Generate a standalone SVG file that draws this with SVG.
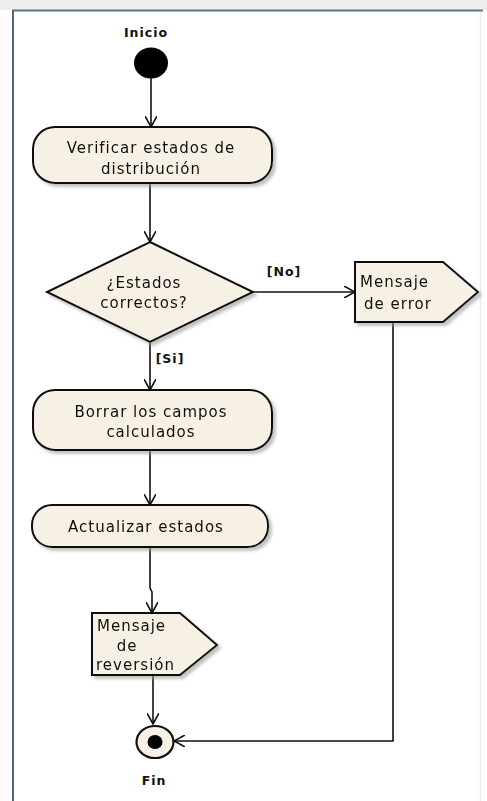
<svg xmlns="http://www.w3.org/2000/svg" width="487" height="801" viewBox="0 0 487 801">
<style>
.node{fill:#f7f0e4;stroke:#111;stroke-width:2}
.t{font-family:"DejaVu Sans",Verdana,sans-serif;font-size:15px;letter-spacing:1px;fill:#111}
.c{text-anchor:middle}
.lbl{font-family:"DejaVu Sans",Verdana,sans-serif;font-size:12.5px;font-weight:bold;letter-spacing:1px;fill:#111}
.edge{fill:none;stroke:#111;stroke-width:1.6}
</style>
<defs>
<marker id="arr" viewBox="0 0 12 12" refX="11" refY="6" markerWidth="12" markerHeight="12" markerUnits="userSpaceOnUse" orient="auto">
<path d="M0,0 L11,6 L0,12" fill="none" stroke="#111" stroke-width="1.6"/>
</marker>
<filter id="sh" x="-10%" y="-10%" width="130%" height="140%">
<feDropShadow dx="3" dy="3" stdDeviation="1.5" flood-color="#999" flood-opacity="0.6"/>
</filter>
</defs>
<rect x="0" y="0" width="487" height="801" fill="#ffffff"/>
<rect x="0" y="0" width="487" height="10" fill="#efeeee"/>
<rect x="0" y="10" width="12" height="791" fill="#fdfbfb"/>
<line x1="12" y1="10.5" x2="483" y2="10.5" stroke="#5f7590" stroke-width="2"/>
<line x1="13" y1="10" x2="13" y2="801" stroke="#4f6688" stroke-width="2"/>
<line x1="480.5" y1="12" x2="480.5" y2="801" stroke="#e9eef2" stroke-width="1.5"/>

<g id="edges">
<path class="edge" d="M151,78 V127" marker-end="url(#arr)"/>
<path class="edge" d="M150,183 V242" marker-end="url(#arr)"/>
<path class="edge" d="M253,292 H355" marker-end="url(#arr)"/>
<text class="lbl" x="284" y="276" text-anchor="middle">[No]</text>
<path class="edge" d="M150,342 V390" marker-end="url(#arr)"/>
<text class="lbl" x="170" y="363" text-anchor="middle">[Si]</text>
<path class="edge" d="M150,450 V505" marker-end="url(#arr)"/>
<path class="edge" d="M150,547 V588 L152,592 V613" marker-end="url(#arr)"/>
<path class="edge" d="M153,675 V724" marker-end="url(#arr)"/>
<path class="edge" d="M393,322 V741 H174" marker-end="url(#arr)"/>
</g>

<g id="inicio">
<ellipse cx="151" cy="63" rx="17" ry="15.5" fill="#000"/>
<text class="lbl c" x="146" y="37">Inicio</text>
</g>

<g id="verificar" filter="url(#sh)">
<rect class="node" x="33" y="127" width="239" height="56" rx="22"/>
<text class="t c" x="151" y="153">Verificar estados de</text>
<text class="t c" x="151" y="174">distribución</text>
</g>

<g id="decision" filter="url(#sh)">
<polygon class="node" points="150,242 253,292 150,342 47,292"/>
<text class="t c" x="144" y="288">¿Estados</text>
<text class="t c" x="144" y="308">correctos?</text>
</g>

<g id="mensajeError" filter="url(#sh)">
<polygon class="node" points="355,262 443,262 478,292 443,322 355,322"/>
<text class="t" x="360" y="287">Mensaje</text>
<text class="t" x="364" y="309">de error</text>
</g>

<g id="borrar" filter="url(#sh)">
<rect class="node" x="33" y="390" width="239" height="60" rx="22"/>
<text class="t c" x="151" y="417">Borrar los campos</text>
<text class="t c" x="151" y="437">calculados</text>
</g>

<g id="actualizar" filter="url(#sh)">
<rect class="node" x="32" y="505" width="236" height="42" rx="20"/>
<text class="t c" x="146" y="532">Actualizar estados</text>
</g>

<g id="mensajeReversion" filter="url(#sh)">
<polygon class="node" points="92,613 180,613 217,645 180,675 92,675"/>
<text class="t" x="97" y="631">Mensaje</text>
<text class="t c" x="127" y="651">de</text>
<text class="t" x="96" y="670">reversión</text>
</g>

<g id="fin">
<ellipse cx="155" cy="742" rx="18.5" ry="16" fill="#f7f0e4" stroke="#111" stroke-width="2.2"/>
<ellipse cx="155" cy="742" rx="7.5" ry="7" fill="#000"/>
<text class="lbl c" x="154" y="785">Fin</text>
</g>
</svg>
